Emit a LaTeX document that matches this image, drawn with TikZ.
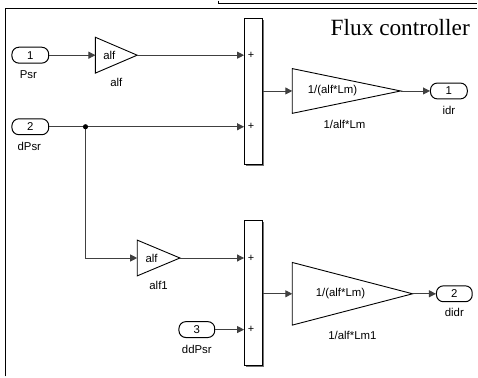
\documentclass[tikz,border=0pt]{standalone}
\usepackage{fontspec}
\setmainfont{Liberation Sans}
\newfontfamily\titlefont{Liberation Serif}
\usetikzlibrary{arrows.meta, positioning, calc, shadows}

\begin{document}
\begin{tikzpicture}[
    x=1bp, y=-1bp,
    font=\fontsize{11.5}{13}\selectfont,
    wire/.style={draw=black!75, line width=0.9bp},
    arrow/.style={wire, -{Triangle[length=7bp, width=7bp]}},
    port/.style={rectangle, draw=black, line width=1bp, fill=white, rounded corners=7bp, minimum width=37bp, minimum height=16bp, inner sep=0pt},
    gain/.style={rectangle, inner sep=0pt, outer sep=0pt},
    tri/.style={draw=black, line width=0.9bp, fill=white, line join=miter},
    sumblk/.style={rectangle, draw=black, line width=1bp, fill=white, minimum width=18bp, inner sep=0pt, drop shadow={shadow xshift=1.5bp, shadow yshift=-1.5bp, fill=black!55, opacity=1}},
    plus/.style={anchor=west, inner sep=0pt, font=\fontsize{11}{12}\selectfont}
]

    % Frame
    \draw[line width=1bp] (220,-2) -- (220,1.2) -- (480,1.2);
    \draw[line width=1.6bp] (5.6,376) -- (5.6,6) -- (480,6);
    \node[anchor=base east, font=\titlefont\fontsize{23.5}{26}\selectfont] (title) at (476,33) {Flux controller};

    % Inports
    \node[port] (psr) at (30.5,53) {1};
    \node[port] (dpsr) at (30.5,125) {2};
    \node[port, minimum width=36bp] (ddpsr) at (198,329) {3};
    \node[below=4bp of psr, xshift=-2bp] (psrname) {Psr};
    \node[below=4bp of dpsr, xshift=-1bp] (dpsrname) {dPsr};
    \node[below=4bp of ddpsr] (ddpsrname) {ddPsr};

    % Gains
    \node[gain, minimum width=42bp, minimum height=36bp] (alf) at (117,53) {};
    \node[gain, minimum width=43bp, minimum height=36bp] (alfb) at (159.5,257) {};
    \node[gain, minimum width=109bp, minimum height=45bp] (invlm) at (348.5,89) {};
    \node[gain, minimum width=121bp, minimum height=63bp] (invlmb) at (354.5,293) {};
    \foreach \g in {alf, alfb, invlm, invlmb}
        \draw[tri] (\g.north west) -- (\g.east) -- (\g.south west) -- cycle;
    \node[xshift=-7bp] (alftxt) at (alf) {alf};
    \node[below=2bp of alf] (alfname) {alf};
    \node[xshift=-7bp] (alfbtxt) at (alfb) {alf};
    \node[below=2bp of alfb] (alfbname) {alf1};
    \node[xshift=-14bp] (invlmtxt) at (invlm) {1/(alf*Lm)};
    \node[below=3bp of invlm, xshift=-2bp] (invlmname) {1/alf*Lm};
    \node[xshift=-12bp] (invlmbtxt) at (invlmb) {1/(alf*Lm)};
    \node[below=3bp of invlmb] (invlmbname) {1/alf*Lm1};

    % Sums
    \node[sumblk, minimum height=147bp] (sum1) at (255,89.5) {};
    \node[sumblk, minimum height=146bp] (sum2) at (255,292) {};
    \node[plus] (p1) at ($(sum1.west |- alf)+(3.5,0)$) {+};
    \node[plus] (p2) at ($(sum1.west |- dpsr)+(3.5,0)$) {+};
    \node[plus] (p3) at ($(sum2.west |- alfb)+(3.5,0)$) {+};
    \node[plus] (p4) at ($(sum2.west |- ddpsr)+(3.5,0)$) {+};

    % Outports
    \node[port] (idr) at (451.5,89) {1};
    \node[port, minimum width=36bp] (didr) at (457,293) {2};
    \node[below=3bp of idr] (idrname) {idr};
    \node[below=3bp of didr] (didrname) {didr};

    % Wires
    \coordinate (split) at (86,125);
    \draw[arrow] (psr.east) -- (alf.west);
    \draw[arrow] (alf.east) -- (alf.east -| sum1.west);
    \draw[arrow] (dpsr.east) -- (dpsr.east -| sum1.west);
    \draw[arrow] (split) |- (alfb.west);
    \fill (split) circle (2.6bp);
    \draw[arrow] (alfb.east) -- (alfb.east -| sum2.west);
    \draw[arrow] (ddpsr.east) -- (ddpsr.east -| sum2.west);
    \draw[arrow] (sum1.east |- invlm.west) -- (invlm.west);
    \draw[arrow] (invlm.east) -- (idr.west);
    \draw[arrow] (sum2.east |- invlmb.west) -- (invlmb.west);
    \draw[arrow] (invlmb.east) -- (didr.west);

    \useasboundingbox (0,0) rectangle (478,374);
\end{tikzpicture}
\end{document}
